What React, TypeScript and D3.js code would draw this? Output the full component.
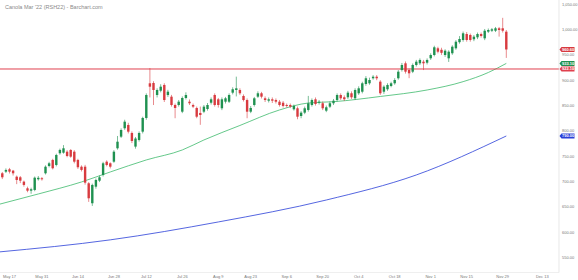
import React, { useEffect } from "react";
import * as d3 from "d3";

const W = 578;
const H = 280;

// OHLC, one entry per trading day (May 13 .. Nov 30, 2021)
const opens = [716.4,719.6,724.3,721.6,709.7,708.5,699.9,686.8,682.1,683.5,704.6,706.6,716.4,730.8,742.7,732.8,755.9,757.0,759.0,762.4,759.0,742.7,729.4,729.4,696.7,657.3,690.0,701.8,713.1,739.3,736.1,739.3,765.7,788.6,805.2,811.7,795.9,769.0,782.1,798.5,825.5,893.9,894.5,870.8,879.3,890.6,870.8,867.5,851.1,851.1,837.9,864.9,857.6,851.1,845.2,835.4,837.9,843.2,855.6,870.8,862.3,844.6,857.6,857.6,875.4,880.7,880.7,868.9,860.9,837.9,851.1,867.5,874.2,864.3,859.6,862.3,860.9,857.6,855.6,851.1,851.1,842.6,844.6,829.4,836.0,841.3,851.1,862.3,855.6,854.5,839.9,847.8,854.5,860.9,870.8,866.3,866.3,874.2,864.3,874.2,877.3,892.5,893.9,903.8,906.9,897.1,877.3,882.1,888.6,893.9,903.8,920.1,933.3,920.1,916.8,930.0,933.3,936.5,934.5,943.2,949.7,962.9,960.0,949.7,943.2,953.1,962.9,975.0,979.3,991.1,989.2,980.7,984.6,991.1,982.6,995.7,997.6,997.6,1002.4,1002.4,995.7];
const highs = [719,726,727,723,712,711,702,690,688,710,711,709,732,739,745,755,765,772,762,764,762,745,732,733,699,696,706,712,739,742,738,762,790,805,822,816,799,788,799,828,874,924,898,884,892,894,881,871,854,861,868,876,862,854,848,848,851,855,866,874,865,866,867,874,886,907,884,872,864,849,867,878,877,868,866,866,864,861,859,854,854,852,848,839,848,869,864,866,861,858,850,858,863,874,874,870,879,878,884,888,897,908,905,910,910,900,890,894,897,904,920,934,937,923,933,940,943,940,943,953,968,966,964,961,959,969,979,987,996,995,992,989,994,994,1001,1002,1003,1005,1005,1023,999];
const lows = [705,717,716,712,695,697,690,679,676,681,702,702,714,728,724,730,753,755,748,747,736,725,720,694,660,652,686,699,710,730,726,737,763,786,802,795,776,765,779,795,822,866,851,866,876,857,867,848,825,848,835,862,851,845,825,812,835,840,852,848,846,841,854,855,872,868,871,858,825,835,848,865,864,857,856,855,854,848,846,846,845,840,823,825,833,838,848,850,852,841,837,845,851,858,861,859,863,863,861,871,874,889,891,901,900,871,873,879,886,891,901,917,913,904,914,927,930,920,931,940,947,953,950,946,936,950,960,972,976,976,976,977,981,984,979,993,995,995,986,994,944];
const closes = [708.5,723.0,719.6,716.4,703.2,701.8,693.4,682.1,684.9,707.7,707.5,704.6,729.4,736.1,726.3,752.5,762.4,765.7,750.5,749.2,739.3,728.3,723.0,697.9,667.1,693.4,703.2,708.5,736.1,732.8,729.4,759.0,778.7,801.8,818.2,798.5,780.1,785.0,795.9,825.5,870.8,887.2,880.7,880.7,887.2,860.9,877.3,851.1,845.2,857.6,864.9,870.8,854.5,847.8,828.0,831.4,847.8,851.1,862.3,851.1,851.1,862.3,864.3,870.8,882.1,884.0,874.2,860.9,837.9,845.2,864.3,874.2,867.5,860.9,862.3,859.6,857.6,851.1,849.2,849.2,847.8,849.2,828.0,836.0,844.6,854.5,860.9,853.1,857.6,844.6,846.6,854.5,859.6,870.8,864.3,862.4,875.4,866.3,880.7,884.0,893.9,903.8,900.4,906.9,903.8,874.2,887.2,890.6,893.9,900.4,916.8,930.0,916.8,913.6,930.0,936.5,939.9,933.3,939.9,949.7,964.9,956.2,954.0,958.2,956.2,966.1,975.9,981.3,992.5,979.3,979.3,985.8,991.1,987.2,997.6,999.0,1000.4,1002.4,999.0,997.6,960.6];

// Moving averages (candle index -> value)
const smaFastIndex = [-1, 10, 22, 30, 40, 50, 56, 66, 77, 85, 92, 105, 118, 128, 135, 140];
const smaFastValues = [655, 675.6, 699.3, 719.0, 742.7, 762.4, 782.1, 810.7, 841.3, 855.0, 857.6, 867.9, 880.7, 897.1, 915.2, 933.1];
const smaSlowIndex = [-1, 30, 60, 90, 115, 140];
const smaSlowValues = [561.2, 585.1, 620.4, 663.7, 713.1, 790.0];

const resistanceLevel = 922.1;

const xTickLabels = ["May 17","May 31","Jun 14","Jun 28","Jul 12","Jul 26","Aug 9","Aug 23","Sep 6","Sep 20","Oct 4","Oct 18","Nov 1","Nov 15","Nov 29","Dec 13"];
const xTickIndex = [2, 11, 21, 31, 40, 50, 60, 69, 79, 89, 99, 109, 119, 129, 139, 150];
const yTickValues = [550, 600, 650, 700, 750, 800, 850, 900, 950, 1000, 1050];

const UP = "#1f9150";
const DOWN = "#d83a3f";
const FAST = "#3dba6c";
const SLOW = "#2a3fd8";
const LEVEL = "#e0404e";

const PLOT_R = 559;
const PLOT_B = 272.5;

export default function App() {
  useEffect(() => {
    document.body.style.margin = "0";
  }, []);

  const x = d3.scaleLinear().domain([0, 140]).range([2.3, 506.3]);
  const y = d3.scaleLinear().domain([500, 1000]).range([283, 29.5]);
  const fmt = d3.format(",.2f");

  const fastLine = d3
    .line<number>()
    .x((_, i) => x(smaFastIndex[i]))
    .y((d) => y(d))
    .curve(d3.curveMonotoneX)(smaFastValues) || "";
  const slowLine = d3
    .line<number>()
    .x((_, i) => x(smaSlowIndex[i]))
    .y((d) => y(d))
    .curve(d3.curveMonotoneX)(smaSlowValues) || "";

  const bw = 2.4;
  const font = "'Liberation Sans', Arial, sans-serif";

  const priceTag = (v: number, color: string, key: string) => {
    const cy = y(v);
    const h = 5;
    const x0 = 559.5;
    const x1 = 561.5;
    const x2 = 574.5;
    const d = `M${x0},${cy} L${x1},${cy - h / 2} L${x2},${cy - h / 2} L${x2},${cy + h / 2} L${x1},${cy + h / 2} Z`;
    return (
      <g key={key}>
        <path d={d} fill={color} />
        <text x={562} y={cy + 1.45} fontSize={4} fill="#fff" fontWeight="bold" fontFamily={font}>
          {fmt(v)}
        </text>
      </g>
    );
  };

  const last = closes[closes.length - 1];
  const fastLast = smaFastValues[smaFastValues.length - 1];
  const slowLast = smaSlowValues[smaSlowValues.length - 1];

  return (
    <svg width={W} height={H} style={{ display: "block", background: "#fff" }}>
      <defs>
        <clipPath id="plot">
          <rect x={0} y={0} width={PLOT_R} height={PLOT_B} />
        </clipPath>
      </defs>
      <text x={5} y={8.5} fontSize={5.5} fill="#8a8a8a" fontFamily={font}>
        Canola Mar '22 (RSH22) - Barchart.com
      </text>
      <g clipPath="url(#plot)">
        <path d={slowLine} fill="none" stroke={SLOW} strokeWidth={0.8} />
        <path d={fastLine} fill="none" stroke={FAST} strokeWidth={0.8} />
        <line x1={0} x2={PLOT_R} y1={y(resistanceLevel)} y2={y(resistanceLevel)} stroke={LEVEL} strokeWidth={1} />
        {opens.map((o, i) => {
          const c = closes[i];
          const up = c >= o;
          const col = up ? UP : DOWN;
          const cx = x(i);
          const top = y(Math.max(o, c));
          const bot = y(Math.min(o, c));
          return (
            <g key={i}>
              <line x1={cx} x2={cx} y1={y(highs[i])} y2={y(lows[i])} stroke={col} strokeWidth={0.6} />
              <rect x={cx - bw / 2} y={top} width={bw} height={Math.max(0.7, bot - top)} fill={col} />
            </g>
          );
        })}
      </g>
      <line x1={PLOT_R} x2={PLOT_R} y1={0} y2={PLOT_B} stroke="#d8d8d8" strokeWidth={0.6} />
      <line x1={0} x2={PLOT_R} y1={PLOT_B} y2={PLOT_B} stroke="#e4e4e4" strokeWidth={0.6} />
      {yTickValues.map((v) => (
        <text key={v} x={562} y={y(v) + 1.4} fontSize={4} fill="#777" fontFamily={font}>
          {fmt(v)}
        </text>
      ))}
      {xTickLabels.map((t, i) => (
        <text key={t} x={x(xTickIndex[i])} y={278} fontSize={4} fill="#777" textAnchor="middle" fontFamily={font}>
          {t}
        </text>
      ))}
      {priceTag(last, DOWN, "last")}
      {priceTag(fastLast, UP, "fast")}
      {priceTag(resistanceLevel, LEVEL, "lvl")}
      {priceTag(slowLast, SLOW, "slow")}
    </svg>
  );
}
